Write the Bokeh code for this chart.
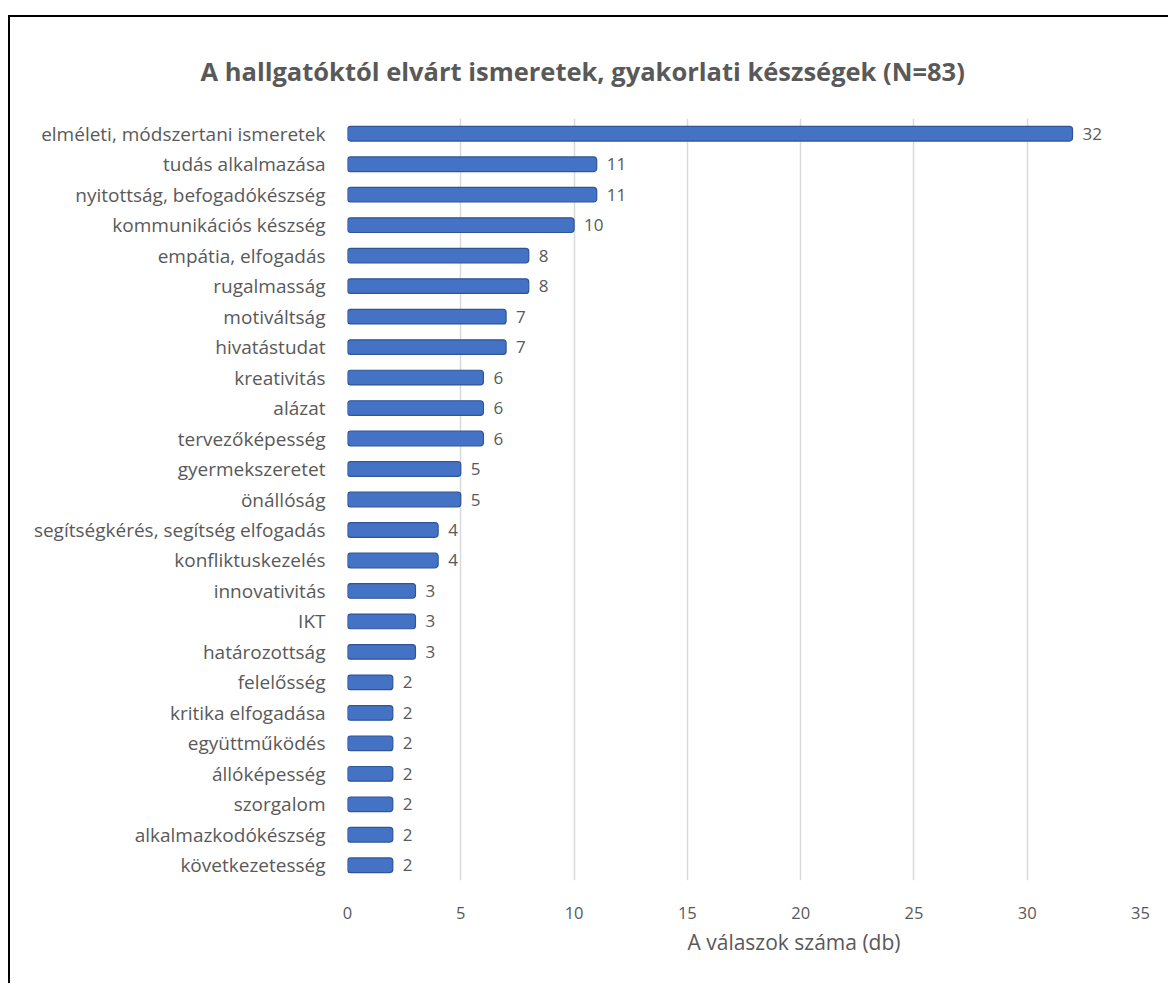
from bokeh.plotting import figure
from bokeh.models import ColumnDataSource, FactorRange, Range1d, LabelSet, Title, FixedTicker
from bokeh.core.properties import value
from bokeh.embed import file_html
from bokeh.resources import INLINE

categories = ["elméleti, módszertani ismeretek", "tudás alkalmazása", "nyitottság, befogadókészség",
              "kommunikációs készség", "empátia, elfogadás", "rugalmasság", "motiváltság",
              "hivatástudat", "kreativitás", "alázat", "tervezőképesség", "gyermekszeretet",
              "önállóság", "segítségkérés, segítség elfogadás", "konfliktuskezelés",
              "innovativitás", "IKT", "határozottság", "felelősség", "kritika elfogadása",
              "együttműködés", "állóképesség", "szorgalom", "alkalmazkodókészség",
              "következetesség"]
values = [32, 11, 11, 10, 8, 8, 7, 7, 6, 6, 6, 5, 5, 4, 4, 3, 3, 3, 2, 2, 2, 2, 2, 2, 2]
x_ticks = [0, 5, 10, 15, 20, 25, 30, 35]

title_text = "A hallgatóktól elvárt ismeretek, gyakorlati készségek (N=83)"
x_title = "A válaszok száma (db)"

FONT = "Open Sans"
GREY = "#595959"

src = ColumnDataSource(dict(cat=categories, val=values, lab=[str(v) for v in values]))

p = figure(width=1160, height=968, output_backend="svg", toolbar_location=None,
           y_range=FactorRange(factors=list(reversed(categories))),
           x_range=Range1d(0, 35),
           min_border_left=337, min_border_right=30, min_border_top=101, min_border_bottom=105)
p.margin = (15, 0, 0, 8)
p.styles = {"border-top": "2px solid #000", "border-left": "2px solid #000"}
p.outline_line_color = None
p.background_fill_color = "white"
p.border_fill_color = "white"

p.hbar(y="cat", right="val", left=0, height=0.48, source=src,
       fill_color="#4472C4", line_color="#2F5597", line_width=1.2, border_radius=3)

labels = LabelSet(x="val", y="cat", text="lab", source=src, x_offset=10,
                  text_baseline="middle", text_font=value(FONT), text_font_size="17px",
                  text_color=GREY)
p.add_layout(labels)

p.xaxis.ticker = FixedTicker(ticks=x_ticks)
p.xaxis.axis_line_color = None
p.xaxis.major_tick_line_color = None
p.xaxis.minor_tick_line_color = None
p.xaxis.major_label_text_font = FONT
p.xaxis.major_label_text_font_size = "16.5px"
p.xaxis.major_label_text_color = GREY
p.xaxis.major_label_standoff = 20

p.yaxis.axis_line_color = None
p.yaxis.major_tick_line_color = None
p.yaxis.minor_tick_line_color = None
p.yaxis.major_label_text_font = FONT
p.yaxis.major_label_text_font_size = "19px"
p.yaxis.major_label_text_color = GREY
p.yaxis.major_label_standoff = 16

p.ygrid.grid_line_color = None
p.xgrid.grid_line_color = "#d9d9d9"
p.xgrid.grid_line_width = 1.5

p.add_layout(Title(text=x_title, align="left", offset=340, text_font=FONT,
                   text_font_size="21px", text_font_style="normal", text_color=GREY,
                   standoff=8), "below")
p.add_layout(Title(text=title_text, align="left", offset=-147, text_font=FONT,
                   text_font_size="25.5px", text_font_style="bold", text_color=GREY,
                   standoff=62), "above")

open("out.html", "w").write(file_html(p, INLINE))
